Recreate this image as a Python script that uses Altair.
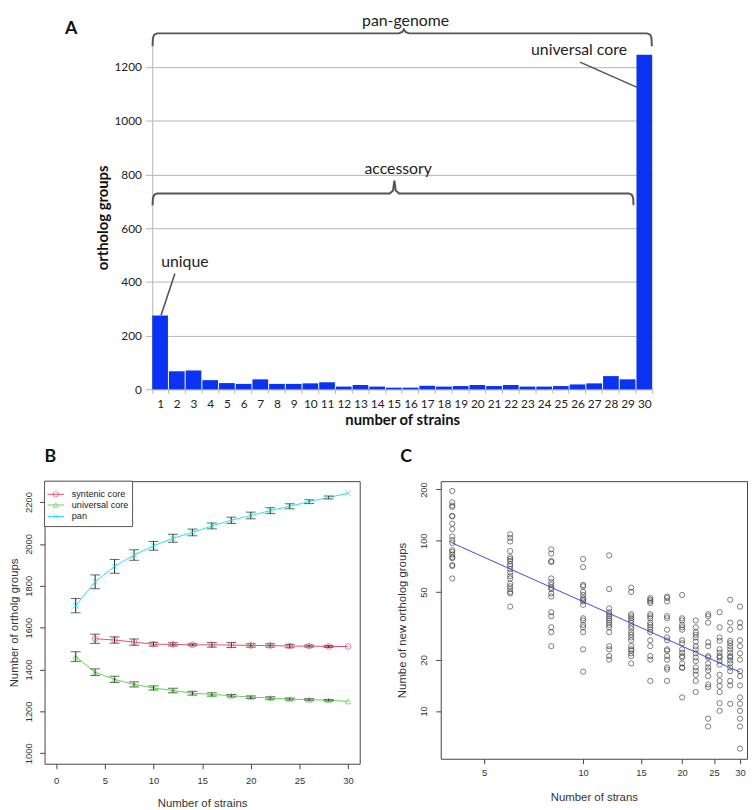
import altair as alt
import pandas as pd

# ---------------- Panel A data ----------------
strains = list(range(1, 31))
ortholog_groups = [275, 67, 70, 34, 23, 20, 37, 20, 20, 22, 26, 10, 16, 10, 6,
                   6, 13, 10, 12, 16, 12, 16, 10, 10, 12, 18, 22, 49, 37, 1245]
y_ticks_A = [0, 200, 400, 600, 800, 1000, 1200]

pan_brace_x = [0.52, 0.54, 0.62, 0.80, 15.30, 15.50, 15.60, 15.70, 15.90, 30.20, 30.38, 30.46, 30.48]
pan_brace_y = [1277, 1308, 1320, 1325, 1325, 1330, 1340, 1330, 1325, 1325, 1320, 1308, 1277]
acc_brace_x = [0.52, 0.54, 0.62, 0.80, 14.75, 14.95, 15.03, 15.11, 15.31, 29.10, 29.28, 29.36, 29.38]
acc_brace_y = [685, 712, 724, 729, 729, 740, 777, 740, 729, 729, 724, 712, 685]

ann_text = ["pan-genome", "accessory", "unique", "universal core"]
ann_x = [15.7, 15.26, 2.46, 26.11]
ann_y = [1351, 802, 456, 1244]

ptr_x = [1.86, 26.17]
ptr_x2 = [1.03, 29.63]
ptr_y = [431, 1218]
ptr_y2 = [276, 1123]

# ---------------- Panel B data ----------------
b_x = [2, 4, 6, 8, 10, 12, 14, 16, 18, 20, 22, 24, 26, 28, 30]
pan_mean = [1705, 1819, 1893, 1947, 1991, 2027, 2055, 2086, 2113, 2136, 2159, 2180, 2202, 2222, 2242]
pan_err = [34, 33, 33, 25, 21, 19, 16, 14, 15, 16, 14, 12, 9, 7, 0]
syn_x = [4, 6, 8, 10, 12, 14, 16, 18, 20, 22, 24, 26, 28, 30]
syn_mean = [1547, 1541, 1531, 1521, 1520, 1518, 1518, 1517, 1515, 1515, 1512, 1512, 1510, 1510]
syn_err = [22, 15, 15, 9, 8, 5, 11, 12, 8, 8, 8, 5, 5, 0]
uni_mean = [1462, 1387, 1353, 1329, 1312, 1300, 1287, 1281, 1275, 1268, 1264, 1259, 1256, 1253, 1248]
uni_err = [23, 16, 15, 12, 10, 11, 9, 8, 6, 6, 6, 5, 5, 4, 0]
series_names = ["syntenic core", "universal core", "pan"]
series_colors = ["#DF536B", "#61D04F", "#28E2E5"]
series_shapes = ["circle", "triangle-up", "M-1,-1L1,1M-1,1L1,-1"]

legend_y = [2237, 2186, 2131]
legend_line_x = [-0.9, 0.8]
legend_sym_x = -0.05
legend_text_x = 1.6
legend_box_x = [-1.2, 7.85]
legend_box_y = [2083, 2300]

# ---------------- Panel C data ----------------
c4 = [196, 168, 161, 158, 140, 139, 126, 117, 106, 101, 97, 88, 86, 83, 80, 79, 72, 71, 60]
c6 = [109, 104, 99, 87, 80, 78, 76, 73, 71, 68, 65, 62, 60, 56, 54, 52, 50, 49, 41]
c8 = [89, 84, 76, 75, 60, 57, 55, 53, 52, 49, 47, 38, 36, 31, 29, 24]
c10 = [78, 70, 55, 54, 50, 48, 46, 45, 44, 42, 35, 34, 32, 31, 29, 23, 17]
c12 = [82, 52, 40, 38, 37, 36, 35, 34, 33, 32, 31, 29, 24, 23, 21, 20]
c14 = [53, 50, 37, 36, 35, 34, 33, 31.5, 30.5, 29, 28, 27, 26, 24, 23, 22.6, 21.8, 21, 19]
c16 = [46, 45, 44, 43, 37, 36, 35, 33, 32, 31, 30, 29, 26, 24, 21, 20, 15]
c18 = [47, 46, 44, 36, 35, 30, 27, 26, 23, 22.6, 21, 20, 18, 17.5, 15]
c20 = [48, 35, 34, 32, 31, 30, 26, 25, 23, 22, 21, 20.6, 19, 18, 17.9, 12]
c22 = [34, 31, 29, 28, 27, 25.5, 24, 23, 21.8, 20.6, 19.6, 18, 17.2, 16.3, 15, 12.9]
c24 = [37, 36, 33, 25.3, 24, 21, 20.6, 19, 18, 17.3, 16, 14.3, 13.8, 9.0, 8.1]
c26 = [38, 31, 27, 25.8, 23, 22, 21, 20.6, 19.6, 18.7, 16.3, 15, 14, 12.9, 11.1, 10]
c28 = [45, 33, 30, 25.8, 25, 24, 23, 22, 21, 20.6, 19.8, 19, 18, 17.1, 15, 14.1, 11]
c30 = [41, 33, 31, 26, 24, 21.8, 20, 17.1, 16, 14.1, 12, 11, 10, 9.0, 8.1, 6.0]
c_groups = {4: c4, 6: c6, 8: c8, 10: c10, 12: c12, 14: c14, 16: c16, 18: c18,
            20: c20, 22: c22, 24: c24, 26: c26, 28: c28, 30: c30}
fit_x = [4, 30]
fit_y = [97, 16.9]

# ---------------- styles ----------------
FA = "Lato"
FR = "Liberation Sans"
BLUE = "#0a33f6"
BR = "#555555"

# ================= Panel A =================
dfA = pd.DataFrame({"strains": strains, "v": ortholog_groups})

yA = alt.Y("v:Q", scale=alt.Scale(domain=[0, 1280], nice=False, zero=True),
           axis=alt.Axis(values=y_ticks_A, format="d", title="ortholog groups", grid=True,
                         gridColor="#b4b4b4", domainColor="#b4b4b4", tickColor="#b4b4b4",
                         tickSize=7, labelPadding=4,
                         labelFont=FA, labelFontSize=12, labelColor="#222",
                         titleFont=FA, titleFontSize=15, titleFontWeight="bold", titleColor="#111",
                         titlePadding=3))
xqA = alt.X("u:Q", scale=alt.Scale(domain=[0.5, 30.5], nice=False, zero=False), axis=None)

barsA = alt.Chart(dfA).mark_bar(color=BLUE).encode(
    x=alt.X("strains:O", scale=alt.Scale(paddingInner=0.06, paddingOuter=0),
            axis=alt.Axis(title="number of strains", labelAngle=0, tickBand="extent", tickSize=4,
                          labelPadding=5, domainColor="#b4b4b4", tickColor="#b4b4b4",
                          labelFont=FA, labelFontSize=12, labelColor="#222",
                          titleFont=FA, titleFontSize=15, titleFontWeight="bold", titleColor="#111",
                          titlePadding=4)),
    y=yA,
)

brace_rows = []
for name, xs, ys in [("pan", pan_brace_x, pan_brace_y), ("acc", acc_brace_x, acc_brace_y)]:
    for i, (bx, by) in enumerate(zip(xs, ys)):
        brace_rows.append({"grp": name, "i": i, "u": bx, "v": by})
dfBrace = pd.DataFrame(brace_rows)
braces = alt.Chart(dfBrace).mark_line(color=BR, strokeWidth=2).encode(
    x=xqA, y=yA, detail="grp:N", order="i:Q")

dfPtr = pd.DataFrame({"u": ptr_x, "u2": ptr_x2, "v": ptr_y, "v2": ptr_y2})
pointers = alt.Chart(dfPtr).mark_rule(color=BR, strokeWidth=1.6).encode(
    x=xqA, x2="u2:Q", y=yA, y2="v2:Q")

dfAnn = pd.DataFrame({"u": ann_x, "v": ann_y, "t": ann_text})
annText = alt.Chart(dfAnn).mark_text(font=FA, fontSize=16, color="#222", align="center",
                                     baseline="alphabetic").encode(x=xqA, y=yA, text="t:N")

dfLab = pd.DataFrame({"u": [-4.36], "v": [1321], "t": ["A"]})
labA = alt.Chart(dfLab).mark_text(font=FA, fontSize=18, fontWeight="bold", color="#111",
                                  align="center", baseline="alphabetic").encode(x=xqA, y=yA, text="t:N")

panelA = alt.layer(barsA, braces, pointers, annText, labA).resolve_scale(x="independent").properties(
    width=506, height=348)

spacer = alt.Chart(pd.DataFrame({"s": [0]})).mark_point(opacity=0).properties(width=20, height=10)

# ================= Panel B =================
rows_line = []
rows_err = []
rows_cap = []
for name, xs, ms, es in [("syntenic core", syn_x, syn_mean, syn_err),
                         ("universal core", b_x, uni_mean, uni_err),
                         ("pan", b_x, pan_mean, pan_err)]:
    for xv, m, e in zip(xs, ms, es):
        rows_line.append({"series": name, "x": xv, "y": m})
        if e > 0:
            rows_err.append({"x": xv, "y": m - e, "y2": m + e})
            rows_cap.append({"x": xv, "y": m - e})
            rows_cap.append({"x": xv, "y": m + e})
dfLine = pd.DataFrame(rows_line)
dfErr = pd.DataFrame(rows_err)
dfCap = pd.DataFrame(rows_cap)

r_axis = dict(labelFont=FR, labelFontSize=9.5, labelColor="#333", titleFont=FR, titleFontSize=11.5,
              titleFontWeight="normal", titleColor="#333", tickColor="#444", tickSize=5,
              domain=False, grid=False)

xscB = alt.Scale(domain=[-1.2, 31.2], nice=False, zero=False)
xB = alt.X("x:Q", scale=xscB,
           axis=alt.Axis(values=[0, 5, 10, 15, 20, 25, 30], format="d", title="Number of strains",
                         labelPadding=7, titlePadding=13, **r_axis))
yB = alt.Y("y:Q", scale=alt.Scale(domain=[950, 2300], nice=False, zero=False),
           axis=alt.Axis(values=[1000, 1200, 1400, 1600, 1800, 2000, 2200], format="d",
                         title="Number of ortholg groups", labelAngle=-90, labelAlign="center",
                         labelBaseline="bottom", labelPadding=6, titlePadding=4, **r_axis))
colB = alt.Color("series:N", scale=alt.Scale(domain=series_names, range=series_colors), legend=None)
shpB = alt.Shape("series:N", scale=alt.Scale(domain=series_names, range=series_shapes), legend=None)

linesB = alt.Chart(dfLine).mark_line(strokeWidth=1).encode(x=xB, y=yB, color=colB, detail="series:N")
errB = alt.Chart(dfErr).mark_rule(color="#222", strokeWidth=1).encode(x=xB, y=yB, y2="y2:Q")
capB = alt.Chart(dfCap).mark_tick(orient="horizontal", size=10, thickness=1, color="#222").encode(x=xB, y=yB)
ptsB = alt.Chart(dfLine).mark_point(filled=False, size=34, strokeWidth=1).encode(
    x=xB, y=yB, color=colB, shape=shpB)

dfBox = pd.DataFrame({"x": [legend_box_x[0]], "x2": [legend_box_x[1]],
                      "y": [legend_box_y[0]], "y2": [legend_box_y[1]]})
boxB = alt.Chart(dfBox).mark_rect(fill="white", stroke="#555", strokeWidth=1).encode(
    x=xB, x2="x2:Q", y=yB, y2="y2:Q")
dfLegLine = pd.DataFrame({"series": series_names, "y": legend_y,
                          "x": [legend_line_x[0]] * 3, "x2": [legend_line_x[1]] * 3})
dfLegSym = pd.DataFrame({"series": series_names, "y": legend_y, "x": [legend_sym_x] * 3})
dfLegText = pd.DataFrame({"series": series_names, "y": legend_y, "x": [legend_text_x] * 3})
legLine = alt.Chart(dfLegLine).mark_rule(strokeWidth=1).encode(x=xB, x2="x2:Q", y=yB, color=colB)
legSym = alt.Chart(dfLegSym).mark_point(filled=False, size=30, strokeWidth=1).encode(
    x=xB, y=yB, color=colB, shape=shpB)
legText = alt.Chart(dfLegText).mark_text(font=FR, fontSize=9.2, color="#222", align="left",
                                         baseline="middle").encode(x=xB, y=yB, text="series:N")

panelB = alt.layer(linesB, errB, capB, ptsB, boxB, legLine, legSym, legText).properties(
    width=319, height=286,
    title=alt.TitleParams("B", anchor="start", frame="group", offset=1, baseline="alphabetic",
                          font=FA, fontSize=18, fontWeight="bold", color="#111", dx=0),
    view=alt.ViewBackground(stroke="#444", strokeWidth=1))

# ================= Panel C =================
rows_c = []
for k, vals in c_groups.items():
    for v in vals:
        rows_c.append({"x": k, "y": v})
dfC = pd.DataFrame(rows_c)
dfFit = pd.DataFrame({"x": fit_x, "y": fit_y})

xC = alt.X("x:Q", scale=alt.Scale(type="log", domain=[3.69, 31.5], nice=False),
           axis=alt.Axis(values=[5, 10, 15, 20, 25, 30], format="d", title="Number of strans",
                         labelPadding=4, titlePadding=15, **r_axis))
yC = alt.Y("y:Q", scale=alt.Scale(type="log", domain=[5.23, 224], nice=False),
           axis=alt.Axis(values=[10, 20, 50, 100, 200], format="d", title="Numbe of new ortholog groups",
                         labelAngle=-90, labelAlign="center", labelBaseline="bottom",
                         labelPadding=7, titlePadding=12, **r_axis))
ptsC = alt.Chart(dfC).mark_point(shape="circle", filled=False, size=28, strokeWidth=0.9,
                                 color="#333").encode(x=xC, y=yC)
fitC = alt.Chart(dfFit).mark_line(color="#4646e0", strokeWidth=1).encode(x=xC, y=yC)

panelC = alt.layer(ptsC, fitC).properties(
    width=310, height=281,
    title=alt.TitleParams("C", anchor="start", frame="group", offset=1, baseline="alphabetic",
                          font=FA, fontSize=18, fontWeight="bold", color="#111", dx=-41),
    view=alt.ViewBackground(stroke="#444", strokeWidth=1))

# ================= Layout =================
top = alt.hconcat(spacer, panelA, spacing=0)
bottom = alt.hconcat(panelB, panelC, spacing=35)
chart = alt.vconcat(top, bottom, spacing=20).properties(padding=0).configure_view(stroke=None)

chart.save("out.html", embed_options={"renderer": "svg", "actions": False})
